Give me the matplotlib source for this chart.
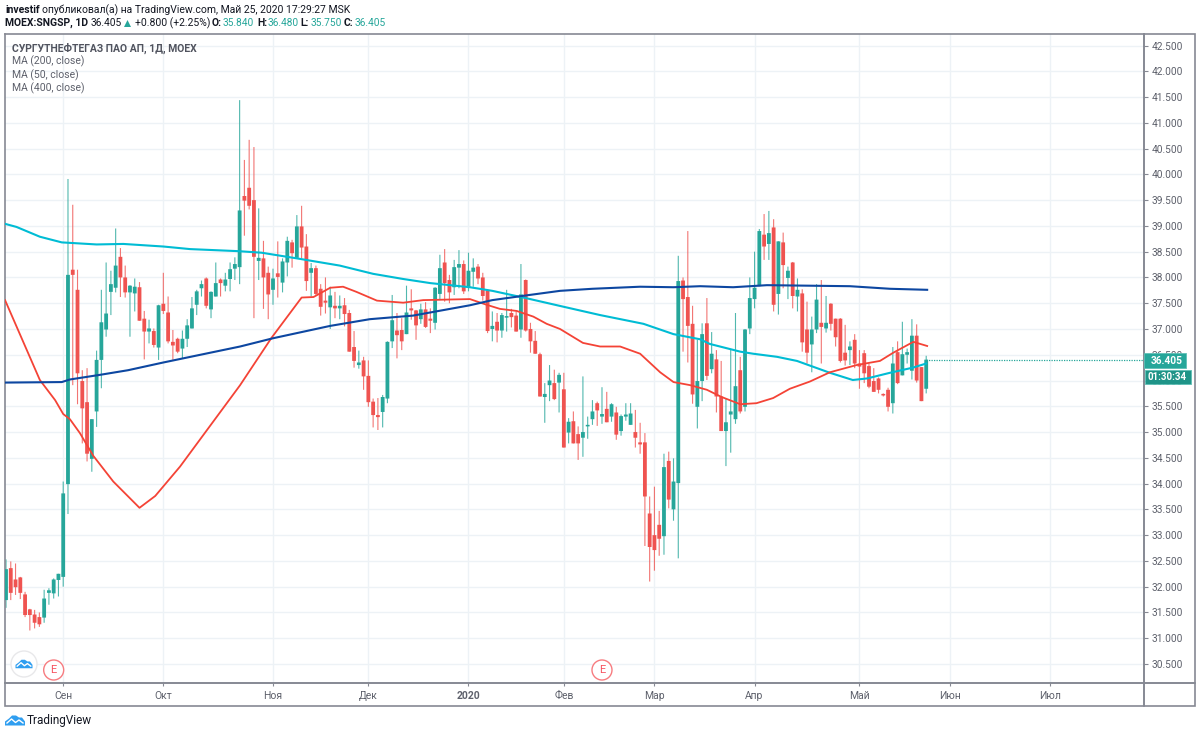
import matplotlib
matplotlib.use('Agg')
import matplotlib.pyplot as plt
from matplotlib.patches import Circle, Polygon, Rectangle

plt.rcParams['font.family'] = ['Roboto', 'DejaVu Sans']

# candles, daily
opens = [31.74,32.36,32.14,32.18,31.85,31.56,31.46,31.41,31.40,31.88,
         31.87,32.13,32.19,33.99,38.15,37.76,35.99,35.58,34.48,35.40,
         36.40,36.99,37.72,37.80,38.40,38.00,37.71,37.69,37.81,37.20,
         36.95,36.96,36.64,37.49,37.32,36.75,36.81,36.62,36.81,37.01,
         37.47,37.79,37.98,37.38,37.63,37.96,37.84,37.97,38.17,38.20,
         39.58,39.74,39.50,38.32,38.37,38.09,37.76,38.08,37.90,38.29,
         38.68,38.38,38.99,38.60,38.09,38.18,37.78,37.55,37.42,37.45,
         37.40,37.46,37.31,36.65,36.30,36.39,36.09,35.59,35.33,35.39,
         35.65,36.76,36.97,36.98,36.90,37.40,37.36,37.19,37.38,37.20,
         37.12,37.68,38.29,37.95,37.81,38.19,38.26,37.81,38.11,38.21,
         38.00,37.74,37.00,37.14,36.97,37.22,37.31,37.26,36.99,37.95,
         37.00,36.77,36.51,35.68,35.91,35.95,35.96,35.83,34.99,35.21,
         34.96,34.89,35.11,35.25,35.56,35.30,35.45,35.30,35.38,35.02,
         35.30,35.14,35.00,34.80,34.80,33.42,33.00,33.20,32.98,34.44,
         33.50,34.01,37.94,37.62,37.10,35.49,35.99,37.11,36.22,36.41,
         35.69,35.02,35.34,35.25,36.20,35.49,37.01,37.58,37.83,38.83,
         38.65,38.97,37.68,38.68,37.99,38.29,37.63,37.69,36.99,36.70,
         36.99,37.12,37.01,37.49,37.20,37.20,36.54,36.59,36.79,36.33,
         36.53,36.28,35.99,36.04,35.73,35.82,35.56,36.55,36.10,36.50,
         36.19,36.87,36.26,35.84]
highs = [32.53,32.49,32.45,32.19,31.90,31.57,31.55,31.50,31.94,31.97,
         32.16,32.25,34.04,39.91,39.41,38.15,36.20,36.24,35.25,36.58,
         37.76,38.29,38.13,38.95,38.57,38.23,37.85,37.98,37.91,37.35,
         37.18,37.01,37.47,38.09,37.63,36.98,36.83,36.97,37.19,37.62,
         37.76,37.94,38.00,37.73,38.29,37.98,38.09,38.29,38.39,41.44,
         40.28,40.67,40.53,39.34,38.71,38.21,38.17,38.70,38.37,38.79,
         38.73,39.21,39.39,38.84,38.28,38.23,37.87,38.00,37.82,37.72,
         37.65,37.60,37.37,36.96,36.58,36.46,36.39,35.65,35.66,35.72,
         36.76,37.66,37.31,37.21,37.84,37.77,37.37,37.49,37.52,37.40,
         37.81,38.44,38.55,38.05,38.34,38.53,38.33,38.48,38.37,38.26,
         38.09,37.76,37.34,37.31,37.31,37.76,37.39,37.34,38.26,37.96,
         37.12,36.96,36.54,35.95,36.30,36.21,36.15,36.15,35.27,35.40,
         35.11,36.08,35.30,35.62,35.59,35.87,35.78,35.56,35.49,35.34,
         35.56,35.56,35.43,35.18,34.98,33.75,33.94,33.47,34.58,34.62,
         34.49,38.42,38.00,38.90,37.45,36.79,37.11,37.60,36.94,36.59,
         36.38,35.66,36.61,37.31,36.46,37.00,38.00,38.50,38.94,39.23,
         39.29,39.13,38.70,38.87,38.21,38.30,37.98,37.77,37.53,37.24,
         37.87,37.95,37.64,37.50,37.20,37.21,37.08,36.76,36.90,36.59,
         36.59,36.33,36.24,36.06,35.75,35.86,36.65,36.76,37.14,36.62,
         37.19,37.09,36.26,36.48]
lows = [31.59,31.74,31.84,31.76,31.41,31.15,31.19,31.22,31.30,31.65,
        31.77,31.81,32.00,33.41,35.91,35.54,34.78,34.43,34.23,35.10,
        35.85,36.85,37.27,37.71,37.62,37.61,36.85,37.34,37.16,36.41,
        36.72,36.64,36.40,37.29,36.72,36.40,36.53,36.43,36.65,37.01,
        37.27,37.63,37.40,37.21,37.63,37.63,37.73,37.73,37.95,37.87,
        38.81,39.32,37.21,37.95,37.39,37.19,37.47,37.61,37.71,38.02,
        38.19,38.38,38.37,37.74,37.63,37.66,37.26,37.30,37.00,37.21,
        37.19,37.05,36.56,36.25,36.23,35.82,35.49,35.09,35.04,35.09,
        35.56,36.63,36.43,36.59,36.90,37.18,36.79,37.10,37.02,36.92,
        36.99,37.56,37.53,37.50,37.66,37.79,37.68,37.73,37.82,37.87,
        37.55,36.92,36.76,36.74,36.83,36.95,37.03,36.95,36.83,36.95,
        36.54,36.52,35.69,35.18,35.60,35.62,35.38,34.70,34.78,34.78,
        34.46,34.52,34.87,35.14,35.12,35.16,35.19,35.20,34.85,34.93,
        35.22,35.14,34.70,34.58,32.79,32.10,32.31,32.60,32.62,33.52,
        33.28,32.55,36.56,36.35,35.55,35.07,35.60,36.01,36.14,35.38,
        35.02,34.34,34.60,35.16,35.36,35.40,36.90,37.40,37.83,38.34,
        38.34,37.34,37.28,37.79,37.58,37.40,37.34,36.56,36.33,36.16,
        36.92,36.33,36.93,36.97,36.66,36.35,36.29,36.30,36.24,35.84,
        35.95,35.85,35.78,35.75,35.69,35.40,35.36,35.93,36.10,36.33,
        36.02,35.96,35.60,35.75]
closes = [32.34,31.88,31.99,31.88,31.45,31.45,31.30,31.27,31.77,31.93,
          32.14,32.25,33.81,38.05,38.05,36.14,35.46,34.58,35.25,36.40,
          37.13,37.30,37.87,38.23,38.00,37.71,37.84,37.82,37.16,36.95,
          37.01,36.69,37.46,37.35,36.76,36.68,36.56,36.81,37.07,37.40,
          37.73,37.87,37.45,37.72,37.89,37.89,37.96,38.16,38.26,39.30,
          39.49,39.39,38.40,38.38,38.00,37.67,37.98,38.01,38.31,38.71,
          38.47,38.99,38.58,37.93,38.18,37.68,37.43,37.51,37.65,37.40,
          37.45,37.29,36.56,36.38,36.35,36.08,35.58,35.33,35.29,35.68,
          36.75,37.17,36.88,36.76,37.32,37.36,37.07,37.38,37.04,37.16,
          37.80,38.18,37.89,37.71,38.20,38.26,37.73,38.13,38.19,37.98,
          37.64,36.96,37.06,36.97,37.27,37.25,37.23,36.95,37.67,36.97,
          36.76,36.52,35.69,35.74,36.00,35.64,36.11,34.70,35.20,34.78,
          34.78,35.00,35.14,35.40,35.42,35.35,35.19,35.54,34.95,35.31,
          35.34,35.36,34.89,34.76,33.75,32.77,32.71,32.93,34.32,33.69,
          34.04,37.93,37.58,37.06,35.73,35.99,36.90,36.09,36.52,35.69,
          35.02,35.19,35.40,35.89,35.40,36.99,37.60,37.80,38.90,38.60,
          38.86,37.47,38.70,38.24,38.13,37.64,37.76,36.74,36.54,36.99,
          37.57,37.04,37.12,37.10,36.84,36.38,36.39,36.66,36.33,36.27,
          36.14,35.88,35.78,35.82,35.71,35.49,36.33,35.95,36.51,36.55,
          36.87,36.00,35.60,36.405]

# moving averages: bar number, value
ma200_x = [-0.2,2.2,7.1,11.7,19,24.6,33,38.6,48.7,53.6,61,70,77,83.3,89,97.3,102,109,117,124.6,
           133.7,140,145.6,147.6,154,156.7,161.7,165.9,172.8,177.6,180.6,185.4,190.2,193]
ma200_y = [39.04,38.98,38.79,38.68,38.64,38.65,38.60,38.55,38.51,38.48,38.37,38.23,38.07,37.97,37.89,37.81,37.74,37.60,37.43,37.27,
           37.10,36.90,36.80,36.71,36.56,36.52,36.46,36.38,36.15,36.01,36.04,36.15,36.25,36.33]
ma50_x = [-0.2,7.1,10.3,12,13.4,15.5,18.3,22.5,28,31.3,36.5,49.1,55.7,62,64.5,68,70.7,73.5,77.8,83.3,
          87.5,97.3,100.8,103.6,107.1,110.6,113.4,116.2,121,124.6,128.8,133,137.2,140,143.5,147,150.1,154,157.4,160.9,
          164.4,168.6,172.8,178.4,183.3,186.1,190.3,193.2]
ma50_y = [37.56,36.01,35.62,35.35,35.25,34.98,34.54,34.04,33.53,33.76,34.33,35.91,36.83,37.61,37.62,37.80,37.82,37.72,37.55,37.51,
          37.56,37.58,37.47,37.39,37.35,37.24,37.10,37.00,36.73,36.66,36.66,36.52,36.16,35.97,35.91,35.82,35.68,35.54,35.56,35.66,
          35.84,35.98,36.16,36.30,36.38,36.54,36.75,36.67]
ma400_x = [-0.2,11.7,13.4,19.7,25.6,33,49.1,56,68,76.3,85.4,97.3,102,109,116.2,123,133,140,145.6,152.5,159.6,177,185.4,193.2]
ma400_y = [35.96,35.97,36.02,36.11,36.20,36.35,36.66,36.82,37.06,37.19,37.26,37.46,37.56,37.65,37.74,37.78,37.82,37.81,37.83,37.81,37.85,37.83,37.78,37.76]

month_pos = [12,33,56,76,97,117,136,157,179,198,219]
month_labels = ['Сен','Окт','Ноя','Дек','2020','Фев','Мар','Апр','Май','Июн','Июл']
price_ticks = [30.5+0.5*i for i in range(25)]
last_price = 36.405
earnings_pos = [10,125]

GREEN = '#26a69a'
RED = '#ef5350'
TEXT = '#5d606b'
FRAME = '#868993'
GRID = '#edf2f6'

fig = plt.figure(figsize=(12,7.35), dpi=100)
ax = fig.add_axes([5/1200, 1-682.7/735, (1144-5)/1200, (682.7-33.5)/735])
ax.set_xlim(-0.21,238.68)
ax.set_ylim(30.137,42.733)
ax.set_axisbelow(True)
ax.grid(True, color=GRID, lw=1.0)

x = list(range(len(opens)))
colors = [GREEN if c >= o else RED for o,c in zip(opens,closes)]
wicks = ax.vlines(x, lows, highs, colors=colors, lw=0.8, alpha=0.8, zorder=2)
wicks.set_snap(False)
bottoms = [min(o,c) for o,c in zip(opens,closes)]
sizes = [max(abs(o-c),0.03) for o,c in zip(opens,closes)]
bars = ax.bar(x, sizes, bottom=bottoms, width=0.8, color=colors, lw=0, zorder=3)
for b in bars:
    b.set_snap(False)

ax.plot(ma200_x, ma200_y, color='#00bcd4', lw=1.5, zorder=4)
ax.plot(ma50_x, ma50_y, color='#f44336', lw=1.3, zorder=4)
ax.plot(ma400_x, ma400_y, color='#0d47a1', lw=1.5, zorder=4)
ax.plot([x[-1],238.68], [last_price,last_price], color=GREEN, lw=0.9, ls=(0,(1,1)), zorder=4)

ax.yaxis.tick_right()
ax.set_yticks(price_ticks)
ax.set_yticklabels(['%.3f' % p for p in price_ticks], fontsize=7.3, color=TEXT)
ax.set_xticks(month_pos)
ax.set_xticklabels(month_labels, fontsize=7.5, color=TEXT)
ax.get_xticklabels()[4].set_fontweight('bold')
ax.tick_params(axis='y', length=3, width=0.8, color=FRAME, pad=2.5)
ax.tick_params(axis='x', length=2.5, width=0.8, color=FRAME, pad=3.5)
for s in ax.spines.values():
    s.set_color(FRAME)
    s.set_linewidth(1.2)

# everything else is placed in pixels
ov = fig.add_axes([0,0,1,1], zorder=5)
ov.set_xlim(0,1200)
ov.set_ylim(735,0)
ov.axis('off')

ov.add_patch(Rectangle((1144,682.7), 51, 23, fc='none', ec=FRAME, lw=1.2))
ov.add_patch(Rectangle((5,682.7), 1139, 23, fc='none', ec=FRAME, lw=1.2))
ov.add_patch(Rectangle((1144,33.5), 51, 649, fc='none', ec=FRAME, lw=1.2))

def label(px, py, s, **kw):
    kw.setdefault('fontsize', 7.5)
    kw.setdefault('color', '#131722')
    kw.setdefault('va', 'center')
    ov.text(px, py, s, **kw)

label(5, 10, 'investif', fontweight='bold')
label(42, 10, 'опубликовал(а) на TradingView.com, Май 25, 2020 17:29:27 MSK')
label(5, 23, 'MOEX:SNGSP, 1D', fontweight='bold')
label(91, 23, '36.405', fontsize=7.3)
ov.add_patch(Polygon([(124,27),(131,27),(127.5,20)], fc=GREEN, lw=0))
label(135, 23, '+0.800 (+2.25%)')
for px, key, val in [(212,'O:',opens[-1]), (257,'H:',highs[-1]), (300,'L:',lows[-1]), (344,'C:',closes[-1])]:
    label(px, 23, key, fontweight='bold')
    label(px+11, 23, '%.3f' % val, color=GREEN, fontsize=7.3)

label(12, 48, 'СУРГУТНЕФТЕГАЗ ПАО АП, 1Д, МОЕХ', color='#50535e', fontweight='bold')
label(12, 61, 'MA (200, close)', color='#5d606b')
label(12, 75, 'MA (50, close)', color='#5d606b')
label(12, 88, 'MA (400, close)', color='#5d606b')

# last price + countdown
ov.add_patch(Rectangle((1144,352.7), 42, 15, fc=GREEN, ec='#5fc0b6', lw=0.6))
label(1151, 360.5, '36.405', color='white', fontweight='bold', fontsize=7.3)
ov.add_patch(Rectangle((1144.5,369.5), 46.5, 14, fc='#1f9488', ec='#5fc0b6', lw=0.6))
label(1148, 376.5, '01:30:34', color='white', fontweight='bold', fontsize=7)

def cloud(cx, cy, s):
    # small TradingView mark
    pts = [(-10,5),(-10,1),(-6,-2),(-3,-5),(1,-5),(4,-3),(7,-3),(10,1),(10,5)]
    ov.add_patch(Polygon([(cx+a*s,cy+b*s) for a,b in pts], fc='#2f9ef0', lw=0))
    ov.plot([cx-8*s,cx-3.5*s,cx+0.5*s,cx+4*s,cx+8*s], [cy+2.5*s,cy-1.5*s,cy+2*s,cy-0.5*s,cy+2.5*s], color='white', lw=1.0)

ov.add_patch(Circle((24,664), 13, fc='white', ec='#e8e8ea', lw=1))
cloud(24, 664, 0.85)
cloud(15, 720.5, 1.0)
label(27, 720.5, 'TradingView', fontsize=8.5)

for pos in earnings_pos:
    px = 5+(pos+0.21)*1139/238.89
    ov.add_patch(Circle((px,670), 10, fc='white', ec='#f77c80', lw=1))
    label(px, 670, 'E', color='#f7525f', ha='center', fontsize=8)

fig.savefig('out.png', dpi=100)
